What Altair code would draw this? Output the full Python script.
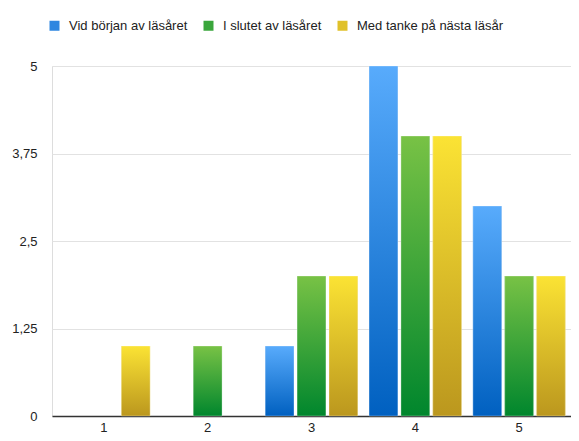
import altair as alt
import pandas as pd

categories = ["1", "2", "3", "4", "5"]
series = ["Vid början av läsåret", "I slutet av läsåret", "Med tanke på nästa läsår"]
start_vals = [0, 0, 1, 5, 3]
end_vals = [0, 1, 2, 4, 2]
next_vals = [1, 0, 2, 4, 2]

solid = ["#2E86E0", "#3AA63C", "#E0C12A"]
grads = [
    ("#58ABFC", "#0060C0"),
    ("#78C245", "#00862D"),
    ("#FBE334", "#BB971E"),
]

rows = []
for s, vals in zip(series, [start_vals, end_vals, next_vals]):
    for c, v in zip(categories, vals):
        rows.append({"cat": c, "series": s, "value": v})
df = pd.DataFrame(rows)

FONT = "Liberation Sans"

x_enc = alt.X("cat:N", sort=categories, title=None,
              scale=alt.Scale(domain=categories, paddingInner=0.11, paddingOuter=0.055),
              axis=alt.Axis(labelAngle=0, ticks=False, domainColor="#333333",
                            domainWidth=1.6, labelPadding=5, labelFontSize=13,
                            labelColor="#222222", labelFont=FONT, grid=False))
xo_enc = alt.XOffset("series:N", sort=series,
                     scale=alt.Scale(domain=series, paddingInner=0.1))
y_enc = alt.Y("value:Q", title=None,
              scale=alt.Scale(domain=[0, 5], nice=False),
              axis=alt.Axis(values=[0, 1.25, 2.5, 3.75, 5], ticks=False, domain=False,
                            labelExpr="replace(toString(datum.value), '.', ',')",
                            labelPadding=15, labelFontSize=13, labelColor="#222222",
                            labelFont=FONT, gridColor="#e2e2e2", gridWidth=1))

base = alt.Chart(df).transform_filter(alt.datum.value > 0).mark_bar().encode(
    x=x_enc, xOffset=xo_enc, y=y_enc,
    color=alt.Color("series:N", sort=series,
                    scale=alt.Scale(domain=series, range=solid),
                    legend=alt.Legend(title=None, orient="none", direction="horizontal",
                                      legendX=-4, legendY=-47, symbolType="square",
                                      symbolSize=100, symbolStrokeWidth=0,
                                      labelFontSize=13, labelFont=FONT,
                                      labelColor="#222222", labelOffset=8,
                                      columnPadding=14, padding=0)),
)

layers = [base]
for s, (top, bot) in zip(series, grads):
    g = alt.Gradient(gradient="linear",
                     stops=[alt.GradientStop(color=top, offset=0),
                            alt.GradientStop(color=bot, offset=1)],
                     x1=0, x2=0, y1=0, y2=1)
    layers.append(
        alt.Chart(df).transform_filter((alt.datum.series == s) & (alt.datum.value > 0))
        .mark_bar(color=g, stroke="#ffffff", strokeWidth=0.6, strokeOpacity=0.5)
        .encode(x=x_enc, xOffset=xo_enc, y=y_enc)
    )

chart = alt.layer(*layers).properties(
    width=519, height=350,
    autosize=alt.AutoSizeParams(type="none"),
    padding={"left": 44, "top": 58, "right": 0, "bottom": 17},
).configure_view(stroke=None).configure(background="white")

chart.save("out.html", embed_options={"renderer": "svg", "actions": False})
